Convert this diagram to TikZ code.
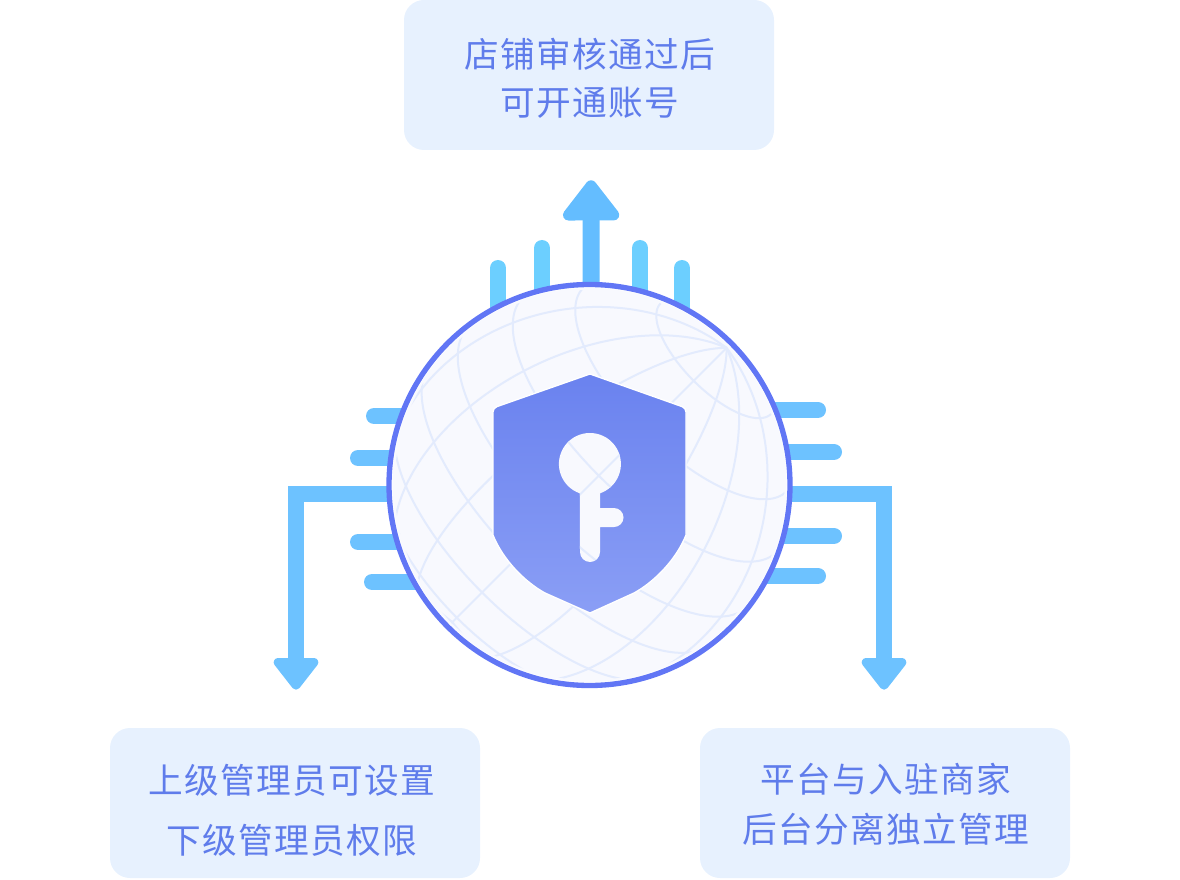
\documentclass[tikz,border=0pt]{standalone}
\usepackage{fontspec}
\newfontfamily\cjkfont[LetterSpace=4]{Noto Sans CJK SC}
\usetikzlibrary{arrows.meta,backgrounds}
\definecolor{boxcol}{HTML}{E7F1FE}
\definecolor{textcol}{HTML}{5F7CEB}
\definecolor{armcol}{HTML}{6DC2FF}
\definecolor{toparmcol}{HTML}{64BDFF}
\definecolor{stubcol}{HTML}{6CCFFF}
\definecolor{ringcol}{HTML}{6176F5}
\definecolor{discol}{HTML}{F8F9FE}
\definecolor{gridcol}{HTML}{E3EBFD}
\definecolor{shieldtop}{HTML}{6A82EF}
\definecolor{shieldlow}{HTML}{8A9EF5}
\tikzset{
  infobox/.style={fill=boxcol,rounded corners=15pt,minimum width=277.5pt,minimum height=112.5pt,inner sep=0pt},
  infotext/.style={text=textcol,font=\cjkfont\fontsize{26}{36}\selectfont,align=center,inner sep=0pt},
  armline/.style={draw=armcol,line width=12pt,-{Triangle[length=26pt,width=38.5pt,round]}},
  toparm/.style={draw=toparmcol,line width=12.75pt,-{Triangle[length=33pt,width=48.5pt,round]}},
  stubline/.style={draw=stubcol,line width=12pt,line cap=round},
  gridline/.style={draw=gridcol,line width=1.5pt}
}
\newcommand{\globelines}{%
  \begin{scope}[shift={(589.5,485)}]
  \foreach \lat in {23,46,64,82,97,114,131,150}
    \draw[gridline] plot[domain=-90:90,samples=36,smooth,variable=\t]
      ({0.7071*(200*(0.97*cos(\lat)-0.4*sin(\lat)*cos(\t))+200*sin(\lat)*sin(\t))},
       {0.7071*(200*sin(\lat)*sin(\t)-200*(0.97*cos(\lat)-0.4*sin(\lat)*cos(\t)))});
  \foreach \lon in {-70,-45,-22,0,22,45,70}
    \draw[gridline] plot[domain=0:180,samples=36,smooth,variable=\t]
      ({0.7071*(200*(0.97*cos(\t)-0.4*sin(\t)*cos(\lon))+200*sin(\t)*sin(\lon))},
       {0.7071*(200*sin(\t)*sin(\lon)-200*(0.97*cos(\t)-0.4*sin(\t)*cos(\lon)))});
  \end{scope}}
\newcommand{\keypath}{(600,493.3) arc (71:-251:31) -- (580,552) arc (180:0:10) -- (600,527) -- (614,527) arc (90:-90:9.5) -- (600,508) -- cycle}
\begin{document}
\begin{tikzpicture}[x=0.75pt,y=-0.75pt]
\useasboundingbox (0,0) rectangle (1180,880);
% boxes
\node[infobox] (topbox) at (589,75) {};
\node[infobox] (leftbox) at (295,803) {};
\node[infobox] (rightbox) at (885,803) {};
\node[infotext] (toptext) at (590,78) {店铺审核通过后\\可开通账号};
\node[infotext] (lefttext) at (292,810) {上级管理员可设置\\[9pt]下级管理员权限};
\node[infotext] (righttext) at (886,804) {平台与入驻商家\\[1.5pt]后台分离独立管理};
% hub
\node[circle,draw=ringcol,line width=4pt,fill=white,minimum size=300.75pt,inner sep=0pt] (hub) at (589.5,485) {};
\begin{pgfonlayer}{background}
\foreach \bx/\by in {498/268,542/248,640/248,682/268} {
  \coordinate (stub) at (\bx,\by);
  \draw[stubline] (stub) -- (stub |- hub);
}
\foreach \bx/\by in {374/416,358/458,358/542,372/582,818/410,834/452,834/536,818/576} {
  \coordinate (stub) at (\bx,\by);
  \draw[stubline,draw=armcol] (stub) -- (stub -| hub);
}
\draw[toparm,shorten >=22.5pt] ([xshift=1.5pt]hub.center) -- ([xshift=1.5pt]topbox.south);
\draw[armline,shorten >=28.5pt] ([yshift=-6.75pt]hub.center) -| ([xshift=0.75pt]leftbox.north);
\draw[armline,shorten >=28.5pt] ([yshift=-6.75pt]hub.center) -| ([xshift=-0.75pt]rightbox.north);
\end{pgfonlayer}
% globe
\fill[discol] (hub.center) circle (197);
\begin{scope}
\clip (hub.center) circle (195);
\globelines
\end{scope}
% shield
\shadedraw[top color=shieldtop,bottom color=shieldlow,draw=white,line width=1pt]
  (590,374) [rounded corners=3pt] -- (493,408) [sharp corners] -- (493,535)
  .. controls (503,560) and (525,582) .. (545,593) -- (590,613)
  -- (634,593) .. controls (654,582) and (676,560) .. (686,535)
  [rounded corners=3pt] -- (686,408) [sharp corners] -- cycle;
% key
\fill[discol] \keypath;
\begin{scope}
\clip \keypath;
\globelines
\end{scope}
\end{tikzpicture}
\end{document}
